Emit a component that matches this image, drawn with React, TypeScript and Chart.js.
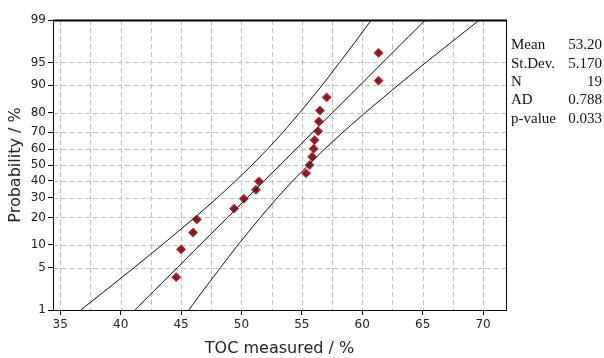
import React, { useEffect, useRef } from "react";
import { Chart, registerables } from "chart.js";

Chart.register(...registerables);

// Measured data (TOC %) and their plotted probabilities (%)
const tocValues = [44.6, 45.0, 46.0, 46.3, 49.4, 50.2, 51.2, 51.45, 55.35, 55.65, 55.85, 55.98, 56.05, 56.35, 56.4, 56.5, 57.05, 61.35, 61.35];
const tocProbs = [3.6, 8.8, 13.9, 19.1, 24.2, 29.4, 34.5, 39.7, 44.8, 50.0, 55.2, 60.3, 65.5, 70.6, 75.8, 80.9, 86.1, 91.2, 96.4];

// Fitted line and 95% confidence bands, read at these probability levels (%)
const bandProbs = [1, 2, 5, 10, 20, 30, 40, 50, 60, 70, 80, 90, 95, 98, 99];
const fitX = [41.17, 42.58, 44.7, 46.57, 48.85, 50.49, 51.89, 53.2, 54.51, 55.91, 57.55, 59.83, 61.7, 63.82, 65.23];
const lowerBandX = [36.7, 38.48, 41.13, 43.43, 46.14, 48.01, 49.53, 50.87, 52.15, 53.43, 54.84, 56.69, 58.13, 59.72, 60.76];
const upperBandX = [45.64, 46.68, 48.27, 49.71, 51.56, 52.97, 54.25, 55.53, 56.87, 58.39, 60.26, 62.97, 65.27, 67.92, 69.7];

// Axis ticks
const yTickProbs = [1, 5, 10, 20, 30, 40, 50, 60, 70, 80, 90, 95, 99];
const xTicks = [35, 37.5, 40, 42.5, 45, 47.5, 50, 52.5, 55, 57.5, 60, 62.5, 65, 67.5, 70];

// Statistics box
const statLabels = ["Mean", "St.Dev.", "N", "AD", "p-value"];
const statValues = ["53.20", "5.170", "19", "0.788", "0.033"];

function normInv(p: number): number {
  const a = [-3.969683028665376e1, 2.209460984245205e2, -2.759285104469687e2, 1.38357751867269e2, -3.066479806614716e1, 2.506628277459239];
  const b = [-5.447609879822406e1, 1.615858368580409e2, -1.556989798598866e2, 6.680131188771972e1, -1.328068155833141e1];
  const c = [-7.784894002430293e-3, -3.223964580411365e-1, -2.400758277161838, -2.549732539343734, 4.374664141464968, 2.938163982698783];
  const d = [7.784695709041462e-3, 3.224671290700398e-1, 2.445134137142996, 3.754408661907416];
  const plow = 0.02425;
  const phigh = 1 - plow;
  if (p < plow) {
    const q = Math.sqrt(-2 * Math.log(p));
    return (((((c[0] * q + c[1]) * q + c[2]) * q + c[3]) * q + c[4]) * q + c[5]) / ((((d[0] * q + d[1]) * q + d[2]) * q + d[3]) * q + 1);
  }
  if (p <= phigh) {
    const q = p - 0.5;
    const r = q * q;
    return ((((((a[0] * r + a[1]) * r + a[2]) * r + a[3]) * r + a[4]) * r + a[5]) * q) / (((((b[0] * r + b[1]) * r + b[2]) * r + b[3]) * r + b[4]) * r + 1);
  }
  const q = Math.sqrt(-2 * Math.log(1 - p));
  return -(((((c[0] * q + c[1]) * q + c[2]) * q + c[3]) * q + c[4]) * q + c[5]) / ((((d[0] * q + d[1]) * q + d[2]) * q + d[3]) * q + 1);
}

const z = (pct: number) => normInv(pct / 100);

const dashedGrid = {
  id: "dashedGrid",
  beforeDatasetsDraw(chart: any) {
    const { ctx, chartArea, scales } = chart;
    ctx.save();
    ctx.strokeStyle = "#c2c2c2";
    ctx.lineWidth = 1;
    ctx.setLineDash([5, 3]);
    xTicks.forEach((v) => {
      const px = Math.round(scales.x.getPixelForValue(v)) + 0.5;
      ctx.beginPath();
      ctx.moveTo(px, chartArea.top);
      ctx.lineTo(px, chartArea.bottom);
      ctx.stroke();
    });
    yTickProbs.forEach((p) => {
      const py = Math.round(scales.y.getPixelForValue(z(p))) + 0.5;
      ctx.beginPath();
      ctx.moveTo(chartArea.left, py);
      ctx.lineTo(chartArea.right, py);
      ctx.stroke();
    });
    ctx.restore();
  },
};

const frameAndStats = {
  id: "frameAndStats",
  afterDraw(chart: any) {
    const { ctx, chartArea } = chart;
    ctx.save();
    ctx.strokeStyle = "#000";
    ctx.lineWidth = 1;
    ctx.strokeRect(Math.round(chartArea.left) + 0.5, Math.round(chartArea.top) + 0.5, Math.round(chartArea.right - chartArea.left), Math.round(chartArea.bottom - chartArea.top));
    ctx.lineWidth = 2;
    ctx.beginPath();
    ctx.moveTo(chartArea.left, Math.round(chartArea.top) + 0.5);
    ctx.lineTo(chartArea.right + 1, Math.round(chartArea.top) + 0.5);
    ctx.stroke();
    ctx.fillStyle = "#111";
    ctx.font = '15px "Liberation Serif"';
    ctx.textBaseline = "middle";
    const rows = [45, 64, 82, 100, 119];
    statLabels.forEach((lab, i) => {
      ctx.textAlign = "left";
      ctx.fillText(lab, 511, rows[i]);
      ctx.textAlign = "right";
      ctx.fillText(statValues[i], 602, rows[i]);
    });
    ctx.restore();
  },
};

export default function App() {
  const ref = useRef<HTMLCanvasElement>(null);
  useEffect(() => {
    if (!ref.current) return;
    const lineDs = (xs: number[]) => ({
      type: "line" as const,
      data: xs.map((x, i) => ({ x, y: z(bandProbs[i]) })),
      borderColor: "#111",
      borderWidth: 1,
      pointRadius: 0,
      fill: false,
      tension: 0,
    });
    const chart = new Chart(ref.current, {
      type: "scatter",
      data: {
        datasets: [
          lineDs(lowerBandX),
          lineDs(fitX),
          lineDs(upperBandX),
          {
            type: "scatter" as const,
            data: tocValues.map((x, i) => ({ x, y: z(tocProbs[i]) })),
            pointStyle: "rectRot",
            pointRadius: 4.5,
            backgroundColor: "#8b1a24",
            borderColor: "#c23a44",
            borderWidth: 1,
          } as any,
        ],
      },
      options: {
        animation: false,
        responsive: false,
        maintainAspectRatio: false,
        layout: { padding: { left: 0, top: 20, right: 98, bottom: 0 } },
        plugins: { legend: { display: false }, tooltip: { enabled: false } },
        scales: {
          x: {
            type: "linear",
            min: 34.4,
            max: 71.9,
            afterBuildTicks: (s: any) => {
              s.ticks = xTicks.map((v) => ({ value: v }));
            },
            afterFit: (s: any) => {
              s.height = 48;
            },
            ticks: {
              autoSkip: false,
              maxRotation: 0,
              padding: 3,
              color: "#222",
              font: { family: "DejaVu Sans", size: 12 },
              callback: (v: any) => (Number(v) % 5 === 0 ? String(v) : ""),
            },
            grid: {
              drawOnChartArea: false,
              tickLength: 5,
              tickColor: (c: any) => (c.tick && c.tick.value % 5 === 0 ? "#000" : "rgba(0,0,0,0)"),
            } as any,
            border: { display: true, color: "#000" },
            title: {
              display: true,
              text: "TOC measured / %",
              color: "#222",
              font: { family: "DejaVu Sans", size: 16 },
              padding: { top: 0, bottom: 0 },
            },
          },
          y: {
            type: "linear",
            min: z(1),
            max: z(99),
            afterBuildTicks: (s: any) => {
              s.ticks = yTickProbs.map((p) => ({ value: z(p) }));
            },
            afterFit: (s: any) => {
              s.width = 53;
            },
            ticks: {
              autoSkip: false,
              padding: 2,
              color: "#222",
              font: { family: "DejaVu Sans", size: 12 },
              callback: (v: any) => {
                let best = yTickProbs[0];
                let bd = Infinity;
                yTickProbs.forEach((p) => {
                  const dd = Math.abs(z(p) - Number(v));
                  if (dd < bd) {
                    bd = dd;
                    best = p;
                  }
                });
                return String(best);
              },
            },
            grid: {
              drawOnChartArea: false,
              tickLength: 5,
              tickColor: "#000",
            } as any,
            border: { display: true, color: "#000" },
            title: {
              display: true,
              text: "Probability / %",
              color: "#222",
              font: { family: "DejaVu Sans", size: 16 },
              padding: { top: 6, bottom: 0 },
            },
          },
        },
      },
      plugins: [dashedGrid, frameAndStats],
    } as any);
    return () => chart.destroy();
  }, []);
  return (
    <div style={{ position: "fixed", left: 0, top: 0, width: 604, height: 358, background: "#fff" }}>
      <canvas ref={ref} width={604} height={358} style={{ width: 604, height: 358 }} />
    </div>
  );
}
